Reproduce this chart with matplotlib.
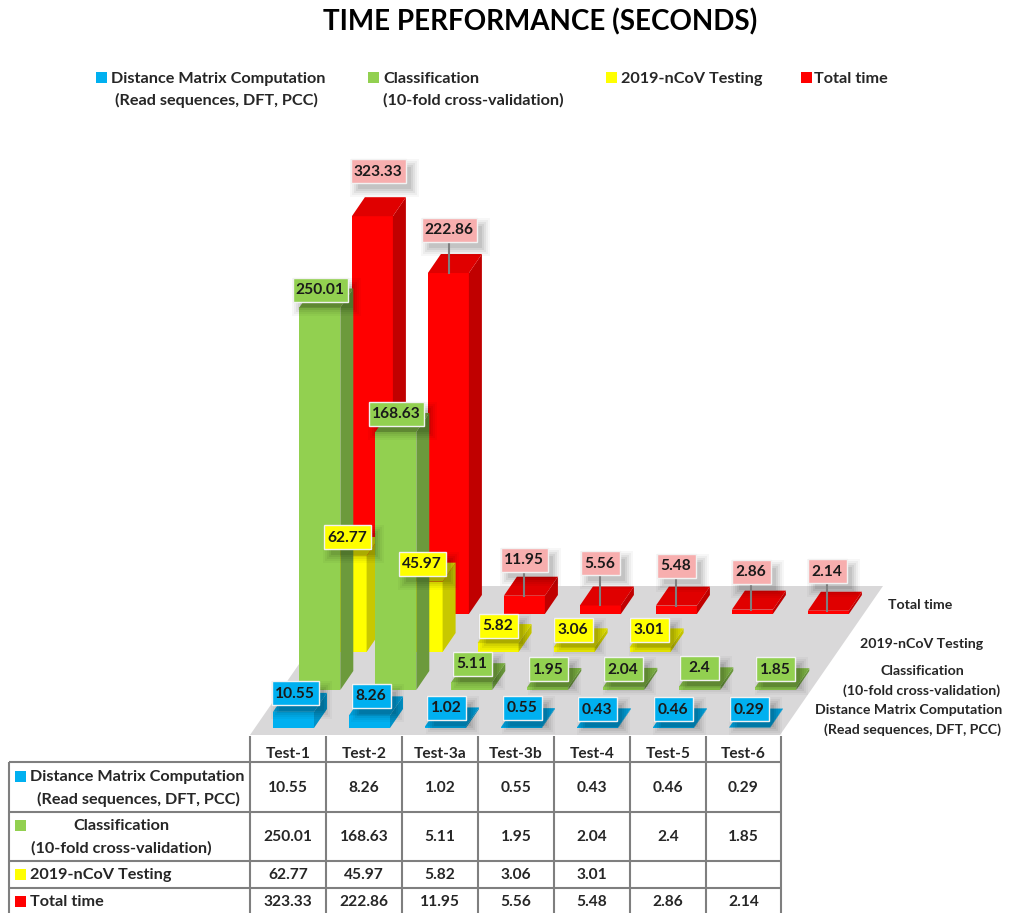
#!/usr/bin/env python3
"""Time performance chart: oblique 3D bars over a data table."""
import matplotlib
matplotlib.use('Agg')
import matplotlib.pyplot as plt
from matplotlib.patches import Polygon, Rectangle

plt.rcParams['font.family'] = ['Lato', 'DejaVu Sans']

# ========== DATA ==========
tests = ['Test-1', 'Test-2', 'Test-3a', 'Test-3b', 'Test-4', 'Test-5', 'Test-6']
distance = [10.55, 8.26, 1.02, 0.55, 0.43, 0.46, 0.29]
classification = [250.01, 168.63, 5.11, 1.95, 2.04, 2.4, 1.85]
testing = [62.77, 45.97, 5.82, 3.06, 3.01, None, None]
total = [323.33, 222.86, 11.95, 5.56, 5.48, 2.86, 2.14]
series = [distance, classification, testing, total]
axis_max = 260  # the tallest bar is cut off by the chart's axis

# ========== STYLE ==========
# front, side, top
colors = [('#00B0F0', '#0092C8', '#00A0DA'),
          ('#92D050', '#6C9A3C', '#7DB344'),
          ('#FFFF00', '#C8C800', '#E0E000'),
          ('#FF0000', '#C00000', '#E00000')]
label_bg = ['#00B0F0', '#92D050', '#FFFF00', '#F7AEAE']
text_c = '#262626'
FS_LEGEND = 11.7
FS_TABLE = 11.7
FS_AXIS = 10.2
FS_VALUE = 11.2

# projection of (column, series row, height) to image pixels
X0, Y0 = 273, 728
COL_DX, ROW_DX, ROW_DY = 76, 26.3, 38
BAR_W, DEPTH_X, DEPTH_Y = 41, 13, 19
PX_PER_UNIT = 1.53

# label centres in pixels, one row per series
label_pos = [
    [(295, 693), (371, 696), (446, 708), (522, 708), (597, 709), (673, 709), (749, 709)],
    [(320, 290), (396, 414), (472, 664), (548, 669), (623, 669), (699, 668), (775, 669)],
    [(347, 537), (422, 564), (498, 626), (573, 630), (649, 630), None, None],
    [(378, 171), (449, 230), (524, 560), (600, 563), (676, 566), (751, 572), (827, 571)],
]

fig = plt.figure(figsize=(10.11, 9.13), dpi=100)
ax = fig.add_axes([0, 0, 1, 1])
ax.set_xlim(0, 1011)
ax.set_ylim(913, 0)
ax.axis('off')


def project(col, row, value):
    x = X0 + COL_DX * col + ROW_DX * row
    y = Y0 - ROW_DY * row - PX_PER_UNIT * min(value, axis_max)
    return x, y


def fmt(value):
    return f'{value:g}' if value != int(value) else str(value)


def draw_bar(col, row, value):
    front, side, top = colors[row]
    x, y_top = project(col, row, value)
    _, y_base = project(col, row, 0)
    ax.add_patch(Polygon([(x, y_base), (x + BAR_W, y_base), (x + BAR_W, y_top), (x, y_top)],
                         fc=front, ec='none'))
    ax.add_patch(Polygon([(x + BAR_W, y_base), (x + BAR_W + DEPTH_X, y_base - DEPTH_Y),
                          (x + BAR_W + DEPTH_X, y_top - DEPTH_Y), (x + BAR_W, y_top)],
                         fc=side, ec='none'))
    ax.add_patch(Polygon([(x, y_top), (x + BAR_W, y_top),
                          (x + BAR_W + DEPTH_X, y_top - DEPTH_Y), (x + DEPTH_X, y_top - DEPTH_Y)],
                         fc=top, ec='none'))


def draw_label(cx, cy, value, row):
    w = 55 if value >= 100 else (47 if value >= 10 else 39)
    h = 24
    # soft shadow
    for grow, a in [(7, 0.03), (5, 0.04), (3, 0.05), (1, 0.06), (-1, 0.07)]:
        ax.add_patch(Rectangle((cx - w / 2 + 6 - grow, cy - h / 2 + 7 - grow), w + 2 * grow, h + 2 * grow,
                               fc='black', ec='none', alpha=a, zorder=5))
    ax.add_patch(Rectangle((cx - w / 2, cy - h / 2), w, h, fc=label_bg[row],
                           ec='#F2F2F2', lw=1.0, zorder=6))
    ax.text(cx, cy + 0.5, fmt(value), ha='center', va='center', fontsize=FS_VALUE, fontweight='bold',
            color='#1A1A1A', zorder=7)


# ========== FLOOR ==========
ax.add_patch(Polygon([(250, 735), (780, 735), (883, 586), (353, 586)], fc='#D9D8D9', ec='none'))

# ========== BARS (back row first) ==========
for row in range(3, -1, -1):
    for col, value in enumerate(series[row]):
        if value is not None:
            draw_bar(col, row, value)

for row in range(3, -1, -1):
    for col, value in enumerate(series[row]):
        if value is None:
            continue
        cx, cy = label_pos[row][col]
        if row == 3 and value < axis_max:
            x, y_top = project(col, row, value)
            ax.plot([cx, cx], [cy + 12, y_top], color='#7F7F7F', lw=1.5, zorder=6)
        draw_label(cx, cy, value, row)

# ========== TITLE + LEGEND ==========
ax.text(540, 22, 'TIME PERFORMANCE (SECONDS)', ha='center', va='center',
        fontsize=20, fontweight='bold', color='black')

legend_x = [96, 368, 606, 801]
for i, x in enumerate(legend_x):
    ax.add_patch(Rectangle((x, 72), 11, 11, fc=colors[i][0], ec='none'))
ax.text(111, 79, 'Distance Matrix Computation', va='center', fontsize=FS_LEGEND, fontweight='bold', color=text_c)
ax.text(115, 100, '(Read sequences, DFT, PCC)', va='center', fontsize=FS_LEGEND, fontweight='bold', color=text_c)
ax.text(383, 79, 'Classification', va='center', fontsize=FS_LEGEND, fontweight='bold', color=text_c)
ax.text(383, 100, '(10-fold cross-validation)', va='center', fontsize=FS_LEGEND, fontweight='bold', color=text_c)
ax.text(621, 79, '2019-nCoV Testing', va='center', fontsize=FS_LEGEND, fontweight='bold', color=text_c)
ax.text(814, 79, 'Total time', va='center', fontsize=FS_LEGEND, fontweight='bold', color=text_c)

# ========== SERIES AXIS LABELS ==========
ax.text(920, 605, 'Total time', ha='center', va='center', fontsize=FS_AXIS, fontweight='bold', color=text_c)
ax.text(922, 644, '2019-nCoV Testing', ha='center', va='center', fontsize=FS_AXIS, fontweight='bold', color=text_c)
ax.text(922, 671, 'Classification', ha='center', va='center', fontsize=FS_AXIS, fontweight='bold', color=text_c)
ax.text(922, 691, '(10-fold cross-validation)', ha='center', va='center', fontsize=FS_AXIS, fontweight='bold', color=text_c)
ax.text(909, 710, 'Distance Matrix Computation', ha='center', va='center', fontsize=FS_AXIS, fontweight='bold', color=text_c)
ax.text(912, 730, '(Read sequences, DFT, PCC)', ha='center', va='center', fontsize=FS_AXIS, fontweight='bold', color=text_c)

# ========== TABLE ==========
col_edges = [250, 326, 402, 478, 554, 630, 706, 781]
row_edges = [762, 812, 861, 888]
row_mid = [788, 837, 875, 902]
line_c = '#7F7F7F'
for x in col_edges:
    ax.plot([x, x], [736, 913], color=line_c, lw=1.5, solid_capstyle='butt')
ax.plot([9, 9], [762, 913], color=line_c, lw=1.5, solid_capstyle='butt')
for y in row_edges:
    ax.plot([9, 781], [y, y], color=line_c, lw=1.5, solid_capstyle='butt')

for col, name in enumerate(tests):
    mid = (col_edges[col] + col_edges[col + 1]) / 2
    ax.text(mid, 754, name, ha='center', va='center', fontsize=FS_VALUE, fontweight='bold', color=text_c)
    for row, vals in enumerate(series):
        if vals[col] is not None:
            ax.text(mid, row_mid[row], fmt(vals[col]),
                    ha='center', va='center', fontsize=FS_VALUE, fontweight='bold', color=text_c)

for i, y in enumerate([771, 820, 869, 896]):
    ax.add_patch(Rectangle((15, y), 11, 11, fc=colors[i][0], ec='none'))
ax.text(30, 777, 'Distance Matrix Computation', va='center', fontsize=FS_TABLE, fontweight='bold', color=text_c)
ax.text(138, 799, '(Read sequences, DFT, PCC)', ha='center', va='center', fontsize=FS_TABLE, fontweight='bold', color=text_c)
ax.text(121, 826, 'Classification', ha='center', va='center', fontsize=FS_TABLE, fontweight='bold', color=text_c)
ax.text(121, 848, '(10-fold cross-validation)', ha='center', va='center', fontsize=FS_TABLE, fontweight='bold', color=text_c)
ax.text(30, 875, '2019-nCoV Testing', va='center', fontsize=FS_TABLE, fontweight='bold', color=text_c)
ax.text(30, 902, 'Total time', va='center', fontsize=FS_TABLE, fontweight='bold', color=text_c)

fig.savefig('out.png', dpi=100)
plt.close()
